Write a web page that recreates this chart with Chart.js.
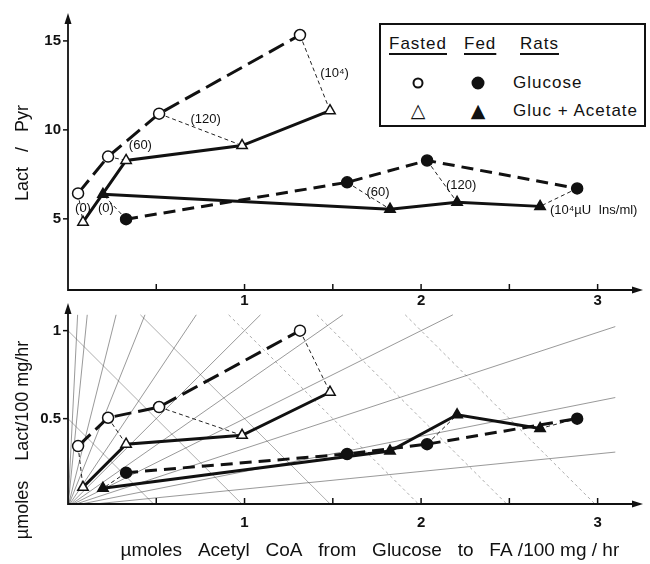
<!DOCTYPE html>
<html lang="en">
<head>
<meta charset="UTF-8">
<title>Lact/Pyr and Lact vs Acetyl CoA</title>
<style>
  body { margin: 0; background: #fff; font-family: 'Liberation Sans', Arial, sans-serif; }
  #wrap { position: relative; width: 650px; height: 564px; overflow: hidden; }
  canvas { position: absolute; left: 0; }
  #topChart { top: 0; }
  #bottomChart { top: 290px; }
  .legend { position: absolute; left: 379px; top: 23px; width: 263px; height: 100px;
            border: 2px solid #111; color: #111; font-size: 17px; letter-spacing: 1px; z-index: 2; background: #fff; }
  .legend span { position: absolute; white-space: nowrap; line-height: 20px; }
  .u { text-decoration: underline; text-decoration-thickness: 2px; text-underline-offset: 4px; }
  .dot { width: 7px; height: 7px; border: 2px solid #111; border-radius: 50%; transform: translate(-50%, -50%); }
  .dot.full { background: #111; width: 9px; height: 9px; }
  .tri { transform: translate(-50%, -50%); letter-spacing: 0; font-family: 'DejaVu Sans', sans-serif; font-size: 19px; }
</style>
<script src="https://cdn.jsdelivr.net/npm/chart.js"></script>
</head>
<body>
<div id="wrap">
  <canvas id="topChart" width="650" height="315"></canvas>
  <canvas id="bottomChart" width="650" height="274"></canvas>
  <div class="legend">
    <span class="u" style="left:8px; top:9px;">Fasted</span>
    <span class="u" style="left:83px; top:9px;">Fed</span>
    <span class="u" style="left:139px; top:9px;">Rats</span>
    <span class="dot" style="left:37px; top:58px;"></span>
    <span class="dot full" style="left:97px; top:58px;"></span>
    <span style="left:132px; top:48px;">Glucose</span>
    <span class="tri" style="left:37px; top:85px;">△</span>
    <span class="tri" style="left:97px; top:85px;">▲</span>
    <span style="left:132px; top:76px;">Gluc + Acetate</span>
  </div>
</div>
<script>
  // x: umoles acetyl CoA from glucose to FA / 100 mg / hr (same in both panels)
  const xFastGlu = [0.057, 0.227, 0.516, 1.314];
  const xFastAce = [0.085, 0.329, 0.986, 1.484];
  const xFedGlu = [0.329, 1.581, 2.034, 2.884];
  const xFedAce = [0.198, 1.824, 2.204, 2.674];

  // top panel: Lact / Pyr
  const lpFastGlu = [6.43, 8.5, 10.91, 15.33];
  const lpFastAce = [4.81, 8.28, 9.12, 11.08];
  const lpFedGlu = [4.98, 7.05, 8.28, 6.71];
  const lpFedAce = [6.38, 5.54, 5.93, 5.70];

  // bottom panel: umoles Lact / 100 mg / hr
  const lactFastGlu = [0.344, 0.505, 0.566, 1.0];
  const lactFastAce = [0.11, 0.355, 0.405, 0.65];
  const lactFedGlu = [0.193, 0.299, 0.355, 0.50];
  const lactFedAce = [0.104, 0.316, 0.522, 0.444];

  // insulin labels (uU Ins/ml) placed at data coordinates in the top panel
  const noteText = ['(0)', '(60)', '(120)', '(10⁴)', '(0)', '(60)', '(120)', '(10⁴µU  Ins/ml)'];
  const noteX = [0.085, 0.41, 0.78, 1.51, 0.215, 1.756, 2.227, 2.73];
  const noteY = [5.6, 9.1, 10.6, 13.2, 5.6, 6.5, 6.9, 5.5];

  // tick values
  const xTicks = [0, 0.5, 1, 1.5, 2, 2.5, 3];
  const topYTicks = [5, 10, 15];
  const bottomYTicks = [0.5, 1];

  // background isolines of the lower panel
  const rayRatios = [20, 10, 4, 2.5, 1.5, 1, 0.7, 0.5, 0.33, 0.2, 0.1];
  const diagSums = [0.5, 1, 1.5, 2, 2.5, 3];

  const FONT = "'Liberation Sans', Arial, sans-serif";
  const INK = '#111';

  function pts(xs, ys) {
    return xs.map((x, i) => ({ x: x, y: ys[i] }));
  }

  function panelDatasets(yFG, yFA, yED, yEA, withGrid) {
    const ds = [
      { data: pts(xFastGlu, yFG), borderDash: [17, 7], pointStyle: 'circle', pointRadius: 5.5, pointBackgroundColor: '#fff' },
      { data: pts(xFastAce, yFA), borderDash: [], pointStyle: 'triangle', pointRadius: 6, pointBackgroundColor: '#fff' },
      { data: pts(xFedGlu, yED), borderDash: [12, 7], pointStyle: 'circle', pointRadius: 5.5, pointBackgroundColor: INK },
      { data: pts(xFedAce, yEA), borderDash: [], pointStyle: 'triangle', pointRadius: 6, pointBackgroundColor: INK }
    ].map(d => Object.assign(d, {
      showLine: true, borderColor: INK, borderWidth: 3, pointBorderColor: INK,
      pointBorderWidth: 1.5, order: 0
    }));

    // thin dashed lines joining equal insulin levels
    for (let i = 0; i < xFastGlu.length; i++) {
      ds.push({ data: [{ x: xFastGlu[i], y: yFG[i] }, { x: xFastAce[i], y: yFA[i] }] });
      ds.push({ data: [{ x: xFedGlu[i], y: yED[i] }, { x: xFedAce[i], y: yEA[i] }] });
    }
    ds.slice(4).forEach(d => Object.assign(d, {
      showLine: true, borderColor: '#222', borderWidth: 1, borderDash: [4, 3], pointRadius: 0, order: 1
    }));

    if (withGrid) {
      const yTop = 1.09;
      rayRatios.forEach(r => {
        const xe = Math.min(3.1, yTop / r);
        ds.push({ data: [{ x: 0, y: 0 }, { x: xe, y: xe * r }], showLine: true, borderColor: 'rgba(60,60,60,0.75)',
                  borderWidth: 0.7, pointRadius: 0, order: 2 });
      });
      diagSums.forEach(c => {
        ds.push({ data: [{ x: Math.max(0, c - yTop), y: Math.min(c, yTop) }, { x: c, y: 0 }], showLine: true,
                  borderColor: 'rgba(60,60,60,0.6)', borderWidth: 0.7, borderDash: c > 1.5 ? [3, 3] : [],
                  pointRadius: 0, order: 2 });
      });
    }
    return ds;
  }

  // axis lines with arrows, tick marks and insulin labels
  const axisDeco = {
    id: 'axisDeco',
    afterDatasetsDraw(chart, args, opts) {
      const { ctx, chartArea: a, scales: { x, y } } = chart;
      ctx.save();
      ctx.strokeStyle = INK;
      ctx.fillStyle = INK;
      ctx.lineWidth = 1.8;
      ctx.beginPath();
      ctx.moveTo(a.left, a.top + 6);
      ctx.lineTo(a.left, a.bottom);
      ctx.lineTo(a.right, a.bottom);
      ctx.stroke();
      ctx.beginPath();
      ctx.moveTo(a.left, a.top - 3);
      ctx.lineTo(a.left - 3.5, a.top + 8);
      ctx.lineTo(a.left + 3.5, a.top + 8);
      ctx.closePath();
      ctx.fill();
      ctx.beginPath();
      ctx.moveTo(a.right + 3, a.bottom);
      ctx.lineTo(a.right - 8, a.bottom - 3.5);
      ctx.lineTo(a.right - 8, a.bottom + 3.5);
      ctx.closePath();
      ctx.fill();
      ctx.lineWidth = 1.5;
      x.ticks.forEach(t => {
        if (t.value === 0) return;
        const px = x.getPixelForValue(t.value);
        ctx.beginPath();
        ctx.moveTo(px, a.bottom);
        ctx.lineTo(px, a.bottom - 6);
        ctx.stroke();
      });
      y.ticks.forEach(t => {
        const py = y.getPixelForValue(t.value);
        ctx.beginPath();
        ctx.moveTo(a.left - 5, py);
        ctx.lineTo(a.left, py);
        ctx.stroke();
      });
      if (opts.notes) {
        ctx.font = '13px ' + FONT;
        ctx.textBaseline = 'middle';
        noteText.forEach((t, i) => {
          ctx.textAlign = i === noteText.length - 1 ? 'left' : 'center';
          ctx.fillText(t, x.getPixelForValue(noteX[i]), y.getPixelForValue(noteY[i]));
        });
      }
      ctx.restore();
    }
  };

  function options(cfg) {
    return {
      responsive: false,
      animation: false,
      layout: { padding: { top: cfg.padTop, right: 10, left: 0, bottom: 0 } },
      plugins: { legend: { display: false }, tooltip: { enabled: false }, axisDeco: { notes: cfg.notes } },
      scales: {
        x: {
          type: 'linear', min: 0, max: 3.24,
          grid: { display: false, drawTicks: false }, border: { display: false },
          afterBuildTicks: s => { s.ticks = xTicks.map(v => ({ value: v })); },
          afterFit: s => { s.height = cfg.xHeight; },
          ticks: {
            padding: cfg.xPad, color: INK, font: { family: FONT, size: 15, weight: 'bold' },
            callback: v => (Number.isInteger(v) && v > 0 ? String(v) : '')
          },
          title: {
            display: !!cfg.xTitle, text: cfg.xTitle, color: INK,
            font: { family: FONT, size: 19 }, padding: { top: 0, bottom: 2 }
          }
        },
        y: {
          type: 'linear', min: cfg.yMin, max: cfg.yMax,
          grid: { display: false, drawTicks: false }, border: { display: false },
          afterBuildTicks: s => { s.ticks = cfg.yTicks.map(v => ({ value: v })); },
          afterFit: s => { s.width = 68; },
          ticks: { padding: 7, color: INK, font: { family: FONT, size: 15, weight: 'bold' }, callback: v => String(v) },
          title: {
            display: true, text: cfg.yTitle, color: INK,
            font: { family: FONT, size: 18 }, padding: { top: 12, bottom: 0 }
          }
        }
      }
    };
  }

  const spacing = {
    id: 'spacing',
    beforeInit(chart) { chart.ctx.letterSpacing = '1px'; }
  };

  new Chart(document.getElementById('topChart'), {
    type: 'scatter',
    data: { datasets: panelDatasets(lpFastGlu, lpFastAce, lpFedGlu, lpFedAce, false) },
    options: options({ padTop: 15, xHeight: 25, xPad: 2, yMin: 1, yMax: 16.4, yTicks: topYTicks,
                       yTitle: 'Lact   /   Pyr', xTitle: '', notes: true }),
    plugins: [spacing, axisDeco]
  });

  new Chart(document.getElementById('bottomChart'), {
    type: 'scatter',
    data: { datasets: panelDatasets(lactFastGlu, lactFastAce, lactFedGlu, lactFedAce, true) },
    options: options({ padTop: 12, xHeight: 60, xPad: 10, yMin: 0.015, yMax: 1.14, yTicks: bottomYTicks,
                       yTitle: 'µmoles    Lact/100 mg/hr              ',
                       xTitle: '      µmoles   Acetyl   CoA   from   Glucose   to   FA /100 mg / hr', notes: false }),
    plugins: [spacing, axisDeco]
  });
</script>
</body>
</html>
